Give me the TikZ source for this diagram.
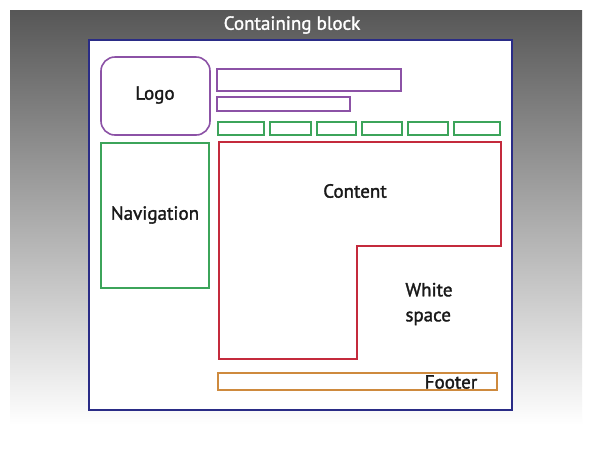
\documentclass[tikz,border=0pt]{standalone}
\usepackage{fontspec}
\setmainfont{PT Sans}
\newfontfamily\lblfont{PT Sans}[FakeBold=1.6]
\begin{document}
\begin{tikzpicture}[x=1pt,y=-1pt,
  box/.style={line width=1.6pt},
  lbl/.style={font=\lblfont\fontsize{19}{25}\selectfont, text=black!90, inner sep=0pt},
]
\definecolor{navyc}{HTML}{2A2C86}
\definecolor{purc}{HTML}{8C52A6}
\definecolor{grnc}{HTML}{3CA45A}
\definecolor{redc}{HTML}{C42A3C}
\definecolor{orgc}{HTML}{CE8A3E}
\useasboundingbox (0,0) rectangle (594,459);
\fill[white] (0,0) rectangle (594,459);
\shade[top color=black!66, middle color=black!25, bottom color=white] (10,10) rectangle (582,425);
% containing block
\draw[box, navyc, fill=white] (89,40) rectangle (512,410);
\node[lbl, text=white] (title) at (292,25) {Containing block};
% logo
\draw[box, purc, rounded corners=14pt] (101,57) rectangle (210,135);
\node[lbl] (logo) at (155,95) {Logo};
\draw[box, purc] (217,69) rectangle (401,91);
\draw[box, purc] (217,97) rectangle (350,111);
% tabs
\foreach \a/\b in {218/264, 270/311, 317/356, 362/402, 408/448, 454/500}
  \draw[box, grnc] (\a,122) rectangle (\b,135);
% navigation
\draw[box, grnc] (101,143) rectangle (209,288);
\node[lbl] (nav) at (155,215) {Navigation};
% content
\draw[box, redc] (219,142) -- (501,142) -- (501,246) -- (357,246) -- (357,359) -- (219,359) -- cycle;
\node[lbl] (content) at (355,191) {Content};
\node[lbl, align=left] (white) at (429,304) {White\\space};
% footer
\draw[box, orgc] (218,373) rectangle (497,390);
\node[lbl] (footer) at (451,382) {Footer};
\end{tikzpicture}
\end{document}
